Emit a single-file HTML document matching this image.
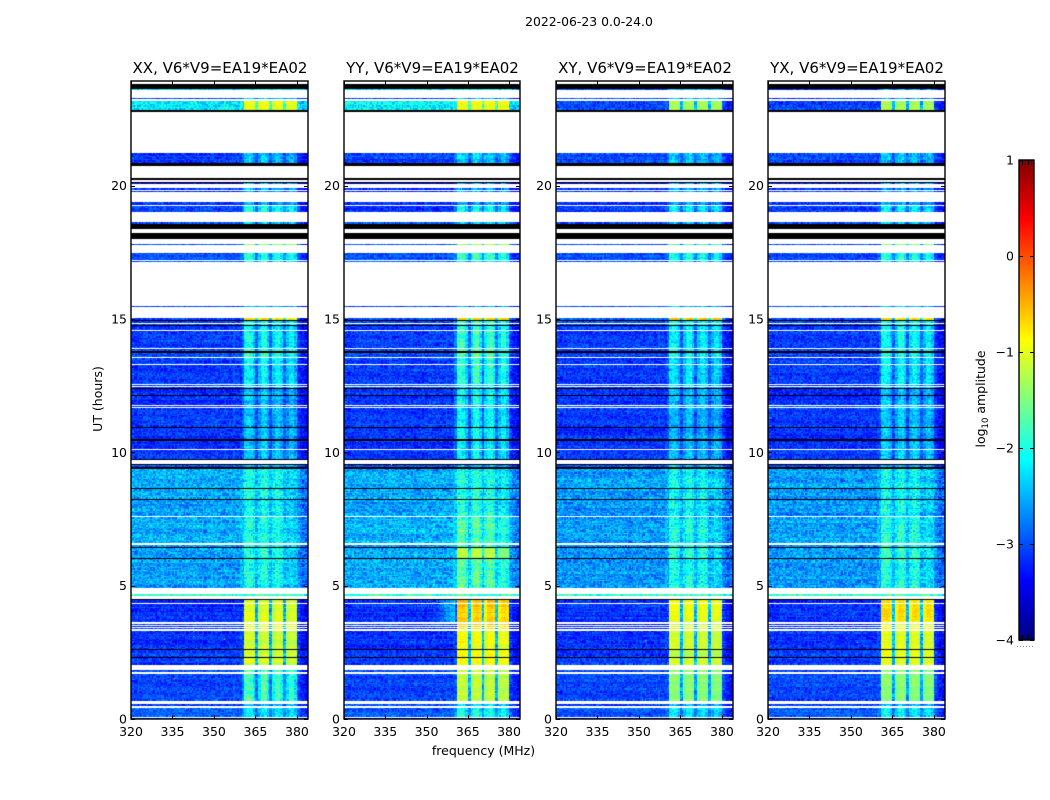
<!DOCTYPE html>
<html lang="en">
<head>
<meta charset="utf-8">
<title>2022-06-23 0.0-24.0</title>
<style>
html,body{margin:0;padding:0;background:#fff;}
#figure{position:relative;width:1050px;height:800px;overflow:hidden;background:#fff;font-family:"DejaVu Sans","Liberation Sans",sans-serif;}
canvas{position:absolute;display:block;}
#overlay{position:absolute;left:0;top:0;}
text{font-family:"DejaVu Sans","Liberation Sans",sans-serif;fill:#000;}
</style>
</head>
<body>
<div id="figure">
<svg id="overlay" width="1050" height="800" viewBox="0 0 1050 800">
<text x="589" y="26" text-anchor="middle" font-size="12.4">2022-06-23 0.0-24.0</text>
<text x="483.5" y="755" text-anchor="middle" font-size="12.5">frequency (MHz)</text>
<text x="0" y="0" transform="translate(102,399) rotate(-90)" text-anchor="middle" font-size="12.5">UT (hours)</text>
<text x="0" y="0" transform="translate(985,399) rotate(-90)" text-anchor="middle" font-size="12.5">log<tspan font-size="8.5" dy="3">10</tspan><tspan dy="-3"> amplitude</tspan></text>
</svg>
</div>
<script>
// ---------- chart data ----------
const panelTitles = ["XX, V6*V9=EA19*EA02", "YY, V6*V9=EA19*EA02", "XY, V6*V9=EA19*EA02", "YX, V6*V9=EA19*EA02"];
const freqTicks = [320, 335, 350, 365, 380];
const hourTicks = [0, 5, 10, 15, 20];
const colorbarTicks = [1, 0, -1, -2, -3, -4];
const BLACK = -9;

// [startHour, endHour, background log-amp, band log-amp]; a value may be [XX, YY, XY, YX].
// Hours not listed are flagged data and stay white.
const scanSegments = [
  [0.00,0.05,-3.15,-2.4],
  [0.09,0.42,-2.95,[-2.2,-1.9,-2.1,-2.1]],
  [0.47,0.56,-3.05,-2.3],
  [0.69,1.70,-3.05,[-1.7,-1.15,-1.45,-1.45]],
  [1.75,1.84,-3.05,[-1.6,-1.2,-1.4,-1.4]],
  [2.04,2.29,-3.1,[-1.05,-0.85,-1.1,-0.95]],
  [2.29,2.32,BLACK,BLACK],
  [2.32,2.59,-3.1,[-1.1,-0.85,-1.15,-1.0]],
  [2.59,2.62,BLACK,BLACK],
  [2.62,3.30,-3.15,[-1.1,-0.9,-1.1,-1.0]],
  [3.36,3.41,-3.15,[-1.0,-0.7,-1.0,-0.9]],
  [3.46,3.49,-3.15,[-1.0,-0.7,-1.0,-0.9]],
  [3.53,3.58,-3.15,[-1.0,-0.7,-1.0,-0.9]],
  [3.62,4.31,-3.15,[-1.0,-0.62,-0.95,-0.7]],
  [4.35,4.45,-3.2,[-1.0,-0.6,-0.95,-0.65]],
  [4.45,4.50,BLACK,BLACK],
  [4.63,4.70,-1.9,-1.85],
  [4.91,6.00,[-2.6,-2.55,-2.65,-2.65],[-1.95,-1.6,-1.95,-1.9]],
  [6.00,6.04,BLACK,BLACK],
  [6.04,6.40,[-2.6,-2.55,-2.65,-2.65],[-1.9,-1.2,-1.85,-1.8]],
  [6.40,6.44,BLACK,BLACK],
  [6.44,6.53,[-2.65,-2.6,-2.7,-2.7],[-2.0,-1.6,-1.95,-1.9]],
  [6.58,7.56,[-2.55,-2.5,-2.6,-2.6],[-1.95,-1.65,-1.95,-1.9]],
  [7.61,8.23,[-2.6,-2.55,-2.65,-2.65],[-2.05,-1.85,-2.05,-2.0]],
  [8.23,8.26,BLACK,BLACK],
  [8.26,8.61,[-2.55,-2.55,-2.65,-2.65],[-2.0,-1.9,-2.05,-2.0]],
  [8.61,8.65,BLACK,BLACK],
  [8.65,9.39,[-2.55,-2.55,-2.6,-2.6],[-2.0,-1.95,-2.0,-2.0]],
  [9.39,9.43,BLACK,BLACK],
  [9.43,9.53,-3.0,-2.4],
  [9.53,9.56,BLACK,BLACK],
  [9.70,9.75,BLACK,BLACK],
  [9.75,10.09,-3.1,[-2.35,-2.05,-2.4,-2.3]],
  [10.13,10.42,-3.15,[-2.35,-2.05,-2.4,-2.3]],
  [10.42,10.50,BLACK,BLACK],
  [10.50,10.91,-3.15,[-2.35,-2.0,-2.4,-2.3]],
  [10.91,10.96,BLACK,BLACK],
  [10.96,11.65,-3.1,[-2.4,-2.05,-2.45,-2.35]],
  [11.69,11.72,-3.05,-2.3],
  [11.76,12.10,-3.15,[-2.35,-2.0,-2.4,-2.3]],
  [12.10,12.15,BLACK,BLACK],
  [12.15,12.37,-3.15,[-2.35,-2.0,-2.4,-2.3]],
  [12.37,12.42,BLACK,BLACK],
  [12.42,12.45,-3.05,-2.2],
  [12.49,12.51,-3.05,-2.2],
  [12.55,13.27,-3.1,[-2.1,-1.8,-2.2,-2.1]],
  [13.31,13.52,-3.1,[-2.05,-1.8,-2.15,-2.05]],
  [13.56,13.74,-3.05,[-1.8,-1.6,-1.95,-1.85]],
  [13.74,13.78,BLACK,BLACK],
  [13.78,13.86,-3.05,[-1.8,-1.6,-1.95,-1.85]],
  [13.90,14.55,-3.1,[-2.0,-1.75,-2.1,-2.0]],
  [14.59,14.73,-3.1,[-2.0,-1.75,-2.1,-2.0]],
  [14.73,14.77,BLACK,BLACK],
  [14.77,14.80,-3.05,-2.0],
  [14.84,14.93,-3.05,[-2.0,-1.75,-2.05,-2.0]],
  [14.93,14.96,BLACK,BLACK],
  [14.96,15.03,-3.0,[-0.6,-0.6,-0.6,-0.6]],
  [15.44,15.49,-3.0,-2.4],
  [17.12,17.18,-3.0,-2.1],
  [17.20,17.48,-3.0,[-1.9,-1.75,-1.95,-1.8]],
  [17.77,17.82,-3.0,[-1.35,-1.3,-1.5,-1.4]],
  [17.99,18.23,BLACK,BLACK],
  [18.38,18.56,BLACK,BLACK],
  [18.56,18.62,-3.05,-2.3],
  [19.00,19.24,-3.1,[-1.95,-1.9,-2.1,-2.1]],
  [19.26,19.29,-3.15,-2.5],
  [19.32,19.38,-3.15,-2.5],
  [19.75,19.81,-3.15,-2.5],
  [19.85,19.90,-3.15,-2.5],
  [20.04,20.09,-3.4,-2.3],
  [20.09,20.13,BLACK,BLACK],
  [20.19,20.28,BLACK,BLACK],
  [20.74,20.85,BLACK,BLACK],
  [20.85,21.21,-3.05,[-2.3,-2.25,-2.4,-2.4]],
  [22.77,22.85,BLACK,BLACK],
  [22.85,23.17,[-2.2,-2.15,-3.05,-3.05],[-0.95,-0.9,-1.3,-1.25]],
  [23.24,23.30,-3.1,-2.4],
  [23.58,23.61,[-2.3,-2.3,-3.0,-3.0],-2.2],
  [23.61,23.80,BLACK,BLACK]
];

// Relative band strength per 1 MHz channel block, 320..383 MHz (bright scans).
const bandShape = [
  0,0,0,0,0,0,0,0,0,0,0,0,0,0,0,0,0,0,0,0,
  0,0,0,0,0,0,0,0,0,0,0,0,0,0,0,0,0,0,0,0,
  .05,1,1,1,.97,.3,.9,1,1,.97,.3,.9,1,1,.97,.3,.92,.98,.98,.95,
  .05,0,0,0
];
// Same blocks for faint scans, where the subband gaps look wider.
const faintBandShape = [
  0,0,0,0,0,0,0,0,0,0,0,0,0,0,0,0,0,0,0,0,
  0,0,0,0,0,0,0,0,0,0,0,0,0,0,0,0,0,0,0,0,
  .25,.9,1,.9,.6,.2,.6,.95,1,.7,.25,.7,.9,.95,.7,.25,.6,.85,.85,.6,
  .08,0,0,0
];
const edgeDim = [0,0,0,0,0,0,0,0,0,0,0,0,0,0,0,0,0,0,0,0,
  0,0,0,0,0,0,0,0,0,0,0,0,0,0,0,0,0,0,0,0,
  0,0,0,0,0,0,0,0,0,0,0,0,0,0,0,0,0,0,0,0,
  0.05,0.1,0.15,0.2];
// Strength of the last subband (376 MHz up) during 4.9-9.4 h, per polarization.
const lateSubbandFade = [0.5, 0.8, 0.6, 0.6];

// Speckle texture, log-amplitude deviation.
const speckle = [
  .31,-.42,.12,-.08,.45,-.27,.05,.22,-.36,.16,-.12,.38,-.5,.09,.27,-.19,.02,.34,-.31,.14,
  -.05,.41,-.24,.19,-.39,.07,.29,-.14,-.46,.24,.11,-.29,.36,-.02,-.21,.17,.48,-.34,.04,-.11,
  .26,-.44,.21,.33,-.16,-.07,.13,-.37,.39,.01,-.25,.18,-.53,.3,.08,-.17,.43,-.3,.23,-.09,
  .15,-.4,.35,-.03,.1,-.22,.28,-.33,.06,.2,-.48,.37,-.13,.25,-.06,-.28,.42,.03,-.18,.32,
  -.38,.11,-.01,.4,-.23,.17,-.35,.27,-.1,.07,.44,-.26,.19,-.15,.3,-.47,.09
];

// [panelIndex, MHz, hour, log-amp] isolated bright channels.
const hotPixels = [
  [0,335.6,1.53,-0.3],[0,353.6,3.00,-0.4],[0,342.4,3.40,-0.2],[0,342.4,3.10,-0.6],
  [1,355.0,0.80,-1.5],[1,337.0,9.55,-0.6],
  [2,342.7,3.10,0.2],[2,352.0,2.95,-1.0],
  [3,342.6,3.15,0.2],[3,352.0,2.90,-1.0]
];
// [panelIndex, startMHz, endMHz, startHour, endHour, peak lift] leakage next to the band.
const glowPatches = [
  [1,353,360.5,3.6,4.5,0.8]
];

// ---------- layout ----------
const panelLefts = [131, 344, 556, 768];
const panelWidths = [177, 176, 177, 177];
const plotTop = 81;
const plotBottom = 719;
const freqMin = 320, freqMax = 384;
const hourMin = 0, hourMax = 23.92;
const channelWidth = 0.5;
const rowHours = 0.05;
const cbarLeft = 1019, cbarRight = 1034, cbarTop = 160, cbarBottom = 640;
const valMin = -4, valMax = 1;

function xScale(f, w){ return (f - freqMin) / (freqMax - freqMin) * w; }
function yScale(h){ return plotBottom - plotTop - (h - hourMin) / (hourMax - hourMin) * (plotBottom - plotTop); }
function cbarY(v){ return cbarBottom - (v - valMin) / (valMax - valMin) * (cbarBottom - cbarTop); }
function clip(x){ return Math.max(0, Math.min(1, x)); }
function jet(x){
  return [clip(1.5 - Math.abs(4*x - 3)), clip(1.5 - Math.abs(4*x - 2)), clip(1.5 - Math.abs(4*x - 1))];
}
function cssColor(v){
  if (v <= BLACK) return "#000";
  const c = jet((v - valMin) / (valMax - valMin));
  return "rgb(" + Math.round(c[0]*255) + "," + Math.round(c[1]*255) + "," + Math.round(c[2]*255) + ")";
}
function pick(value, panel){ return Array.isArray(value) ? value[panel] : value; }

const colorCache = new Map();
function cachedColor(v){
  const key = Math.round(v * 100);
  if (!colorCache.has(key)) colorCache.set(key, cssColor(key / 100));
  return colorCache.get(key);
}

function glowAt(panel, f, h){
  let lift = 0;
  glowPatches.forEach(function(g){
    if (g[0] === panel && f >= g[1] && f < g[2] && h >= g[3] && h < g[4]) {
      lift += g[5] * (f - g[1]) / (g[2] - g[1]);
    }
  });
  return lift;
}

function drawHeatmap(ctx, panel){
  const w = panelWidths[panel];
  const nChannels = Math.round((freqMax - freqMin) / channelWidth);
  scanSegments.forEach(function(seg, segIndex){
    const bg = pick(seg[2], panel), band = pick(seg[3], panel);
    const rows = Math.max(1, Math.round((seg[1] - seg[0]) / rowHours));
    const dt = (seg[1] - seg[0]) / rows;
    const bright = band > -1.5;
    const shape = bright ? bandShape : faintBandShape;
    const lateScan = seg[0] >= 4.9 && seg[1] <= 9.4;
    for (let r = 0; r < rows; r++){
      const hour = seg[0] + r * dt;
      const y0 = Math.round(yScale(seg[0] + (r + 1) * dt));
      const y1 = Math.max(y0 + 1, Math.round(yScale(hour)));
      if (bg <= BLACK){
        ctx.fillStyle = "#000";
        ctx.fillRect(0, y0, w, y1 - y0);
        continue;
      }
      const rowId = segIndex * 37 + r + panel * 101;
      const streak = speckle[(rowId * 3) % speckle.length] * 0.22;
      for (let c = 0; c < nChannels; c++){
        const f = freqMin + c * channelWidth;
        const mhz = Math.floor(f - freqMin);
        const hash = (c * c * 3 + rowId * rowId * 5 + c * rowId * 11 + c * 7 + rowId) % speckle.length;
        let gain = shape[mhz];
        if (lateScan && mhz >= 56) gain *= lateSubbandFade[panel];
        const noiseScale = bright && gain > .5 ? 0.2 : (bg < -2.9 ? 0.6 : 0.8);
        const v = bg + (band - bg) * gain - edgeDim[mhz] * 1.5
                + glowAt(panel, f, hour) + speckle[hash] * noiseScale + streak;
        const x0 = Math.round(xScale(f, w));
        const x1 = Math.round(xScale(f + channelWidth, w));
        ctx.fillStyle = cachedColor(v);
        ctx.fillRect(x0, y0, x1 - x0, y1 - y0);
      }
    }
  });
  hotPixels.forEach(function(p){
    if (p[0] !== panel) return;
    ctx.fillStyle = cssColor(p[3]);
    ctx.fillRect(Math.round(xScale(p[1], w)), Math.round(yScale(p[2])), 1, 1);
  });
}

const SVGNS = "http://www.w3.org/2000/svg";
const figure = document.getElementById("figure");
const overlay = document.getElementById("overlay");

function line(parent, x1, y1, x2, y2){
  const l = document.createElementNS(SVGNS, "line");
  l.setAttribute("x1", x1);
  l.setAttribute("y1", y1);
  l.setAttribute("x2", x2);
  l.setAttribute("y2", y2);
  l.setAttribute("stroke", "#000");
  l.setAttribute("stroke-width", "1");
  parent.appendChild(l);
  return l;
}
function label(parent, x, y, anchor, str, size){
  const t = document.createElementNS(SVGNS, "text");
  t.setAttribute("x", x);
  t.setAttribute("y", y);
  t.setAttribute("text-anchor", anchor);
  t.setAttribute("font-size", size);
  t.textContent = str;
  parent.appendChild(t);
  return t;
}

panelTitles.forEach(function(title, panel){
  const left = panelLefts[panel];
  const w = panelWidths[panel];
  const canvas = document.createElement("canvas");
  
  
  canvas.width = w;
  canvas.height = plotBottom - plotTop;
  canvas.style.left = left + "px";
  canvas.style.top = plotTop + "px";
  figure.insertBefore(canvas, overlay);
  drawHeatmap(canvas.getContext("2d"), panel);

  const g = document.createElementNS(SVGNS, "g");
  
  
  overlay.appendChild(g);

  const frame = document.createElementNS(SVGNS, "rect");
  
  
  frame.setAttribute("x", left);
  frame.setAttribute("y", plotTop);
  frame.setAttribute("width", w);
  frame.setAttribute("height", plotBottom - plotTop);
  frame.setAttribute("fill", "none");
  frame.setAttribute("stroke", "#000");
  frame.setAttribute("stroke-width", "1.4");
  g.appendChild(frame);

  const titleEl = label(g, left + w / 2 + 0.5, 73, "middle", title, 15);
  
  

  freqTicks.forEach(function(f){
    const x = Math.round(left + xScale(f, w)) + 0.5;
    const tickBottom = line(g, x, plotBottom, x, plotBottom - 4);
    
    
    const tickTop = line(g, x, plotTop, x, plotTop + 4);
    
    
    const t = label(g, left + xScale(f, w), 736, "middle", String(f), 12.5);
    
    
  });
  hourTicks.forEach(function(h){
    const y = Math.round(plotTop + yScale(h)) + 0.5;
    const tickLeft = line(g, left, y, left + 4, y);
    
    
    const tickRight = line(g, left + w, y, left + w - 4, y);
    
    
    const t = label(g, left - 4, plotTop + yScale(h) + 4.5, "end", String(h), 12.5);
    
    
  });
});

// ---------- colorbar ----------
const defs = document.createElementNS(SVGNS, "defs");
const grad = document.createElementNS(SVGNS, "linearGradient");
grad.setAttribute("id", "jetGradient");
grad.setAttribute("x1", "0");
grad.setAttribute("y1", "1");
grad.setAttribute("x2", "0");
grad.setAttribute("y2", "0");
for (let i = 0; i <= 40; i++){
  const stop = document.createElementNS(SVGNS, "stop");
  stop.setAttribute("offset", i / 40);
  stop.setAttribute("stop-color", cssColor(valMin + (valMax - valMin) * i / 40));
  grad.appendChild(stop);
}
defs.appendChild(grad);
overlay.appendChild(defs);

const cbar = document.createElementNS(SVGNS, "g");


overlay.appendChild(cbar);

const cbarRect = document.createElementNS(SVGNS, "rect");


cbarRect.setAttribute("x", cbarLeft);
cbarRect.setAttribute("y", cbarTop);
cbarRect.setAttribute("width", cbarRight - cbarLeft);
cbarRect.setAttribute("height", cbarBottom - cbarTop);
cbarRect.setAttribute("fill", "url(#jetGradient)");
cbarRect.setAttribute("stroke", "#000");
cbarRect.setAttribute("stroke-width", "1.4");
cbar.appendChild(cbarRect);

colorbarTicks.forEach(function(v){
  const y = Math.round(cbarY(v)) + 0.5;
  const a = line(cbar, cbarLeft, y, cbarLeft + 4, y);
  
  
  const b = line(cbar, cbarRight - 4, y, cbarRight, y);
  
  
  const t = label(cbar, cbarLeft - 5, cbarY(v) + 4.5, "end", String(v).replace("-", "\u2212"), 12.5);
  
  
});
for (let x = cbarLeft + 3; x < cbarRight - 1; x += 3){
  const top = line(cbar, x + 0.5, cbarTop, x + 0.5, cbarTop + 5);
  
  
  const bottom = line(cbar, x + 0.5, cbarBottom, x + 0.5, cbarBottom - 5);
  
  
}
for (let x = cbarLeft - 2; x < cbarRight + 1; x += 3){
  const dot = document.createElementNS(SVGNS, "rect");
  
  
  dot.setAttribute("x", x);
  dot.setAttribute("y", 646);
  dot.setAttribute("width", 1);
  dot.setAttribute("height", 1);
  dot.setAttribute("fill", "#888");
  cbar.appendChild(dot);
}
</script>
</body>
</html>
